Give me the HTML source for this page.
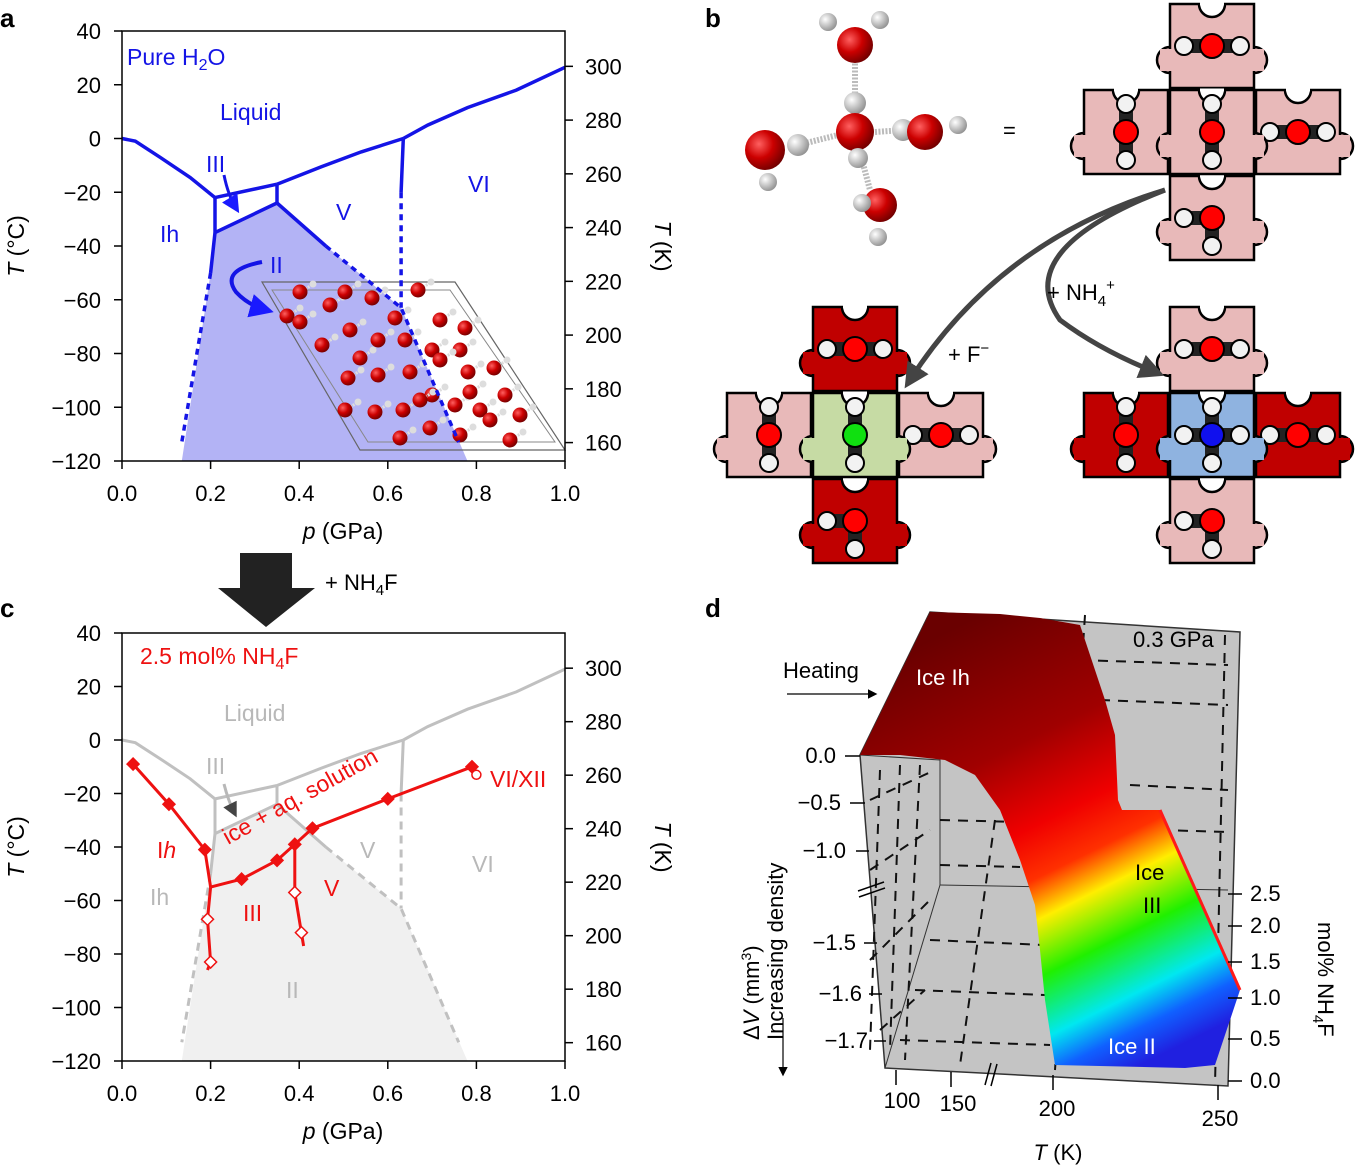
<!DOCTYPE html>
<html><head><meta charset="utf-8"><style>
html,body{margin:0;padding:0;background:#fff}
svg{display:block;font-family:"Liberation Sans",sans-serif}
</style></head><body>
<svg id="fig" width="1362" height="1166" viewBox="0 0 1362 1166" xmlns="http://www.w3.org/2000/svg">
<defs>
<linearGradient id="surf" x1="930" y1="640" x2="1140" y2="1065" gradientUnits="userSpaceOnUse">
<stop offset="0" stop-color="#6a0000"/><stop offset="0.28" stop-color="#a00000"/><stop offset="0.45" stop-color="#f00000"/><stop offset="0.55" stop-color="#ff3000"/><stop offset="0.63" stop-color="#ffee00"/><stop offset="0.74" stop-color="#20f000"/><stop offset="0.86" stop-color="#00e8f0"/><stop offset="0.93" stop-color="#1060ff"/><stop offset="1" stop-color="#2020e0"/>
</linearGradient>
<radialGradient id="ball" cx="0.35" cy="0.35" r="0.7"><stop offset="0" stop-color="#ff6060"/><stop offset="0.5" stop-color="#cc0000"/><stop offset="1" stop-color="#700000"/></radialGradient>
<radialGradient id="hball" cx="0.35" cy="0.35" r="0.7"><stop offset="0" stop-color="#ffffff"/><stop offset="1" stop-color="#909090"/></radialGradient>
<marker id="ah" markerWidth="8" markerHeight="8" refX="6" refY="4" orient="auto"><path d="M0,0 L8,4 L0,8 Z" fill="#000"/></marker>
<marker id="ahb" markerWidth="6" markerHeight="6" refX="4" refY="3" orient="auto"><path d="M0,0 L6,3 L0,6 Z" fill="#1a1aff"/></marker>
<marker id="ahg" markerWidth="5" markerHeight="5" refX="3" refY="2.5" orient="auto"><path d="M0,0 L5,2.5 L0,5 Z" fill="#444"/></marker>
</defs>
<g id="pa"></g>
<g id="pc"></g>
<g id="pb"></g>
<g id="pd">
 <polygon points="860,755 930,612 1240,632 1228,1086 885,1068" fill="#c4c4c4" stroke="#333" stroke-width="1.5"/>
 <polyline points="860,755 940,760 940,885 885,1068" fill="none" stroke="#333" stroke-width="1"/>
 <line x1="940" y1="885" x2="1228" y2="890" stroke="#333" stroke-width="1"/>
 <g stroke="#111" stroke-width="2" stroke-dasharray="10,8" fill="none">
  <line x1="1085" y1="615" x2="1055" y2="1070"/><line x1="1225" y1="635" x2="1215" y2="1085"/>
  <line x1="1080" y1="660" x2="1228" y2="665"/><line x1="1100" y1="700" x2="1228" y2="705"/><line x1="1130" y1="785" x2="1228" y2="790"/><line x1="1160" y1="830" x2="1228" y2="832"/>
  <line x1="940" y1="820" x2="1020" y2="822"/><line x1="940" y1="865" x2="1020" y2="867"/><line x1="930" y1="940" x2="1045" y2="945"/><line x1="915" y1="990" x2="1045" y2="995"/><line x1="900" y1="1040" x2="1050" y2="1045"/>
  <line x1="880" y1="770" x2="870" y2="1050"/><line x1="900" y1="765" x2="890" y2="1050"/><line x1="920" y1="765" x2="905" y2="1060"/>
  <line x1="995" y1="820" x2="960" y2="1065"/><line x1="870" y1="800" x2="935" y2="770"/><line x1="870" y1="870" x2="930" y2="830"/><line x1="870" y1="960" x2="930" y2="900"/><line x1="880" y1="1030" x2="925" y2="990"/>
 </g>
 <polygon points="860,755 930,612 1000,614 1040,618 1080,625 1095,670 1105,700 1115,735 1118,800 1122,810 1160,810 1240,990 1215,1065 1185,1068 1055,1065 1045,1000 1040,950 1035,905 1020,860 1000,810 975,775 945,760 900,755" fill="url(#surf)"/>
 <line x1="1160" y1="810" x2="1240" y2="990" stroke="#ff1a1a" stroke-width="3"/>
 <g font-size="22">
  <text x="1133" y="647">0.3 GPa</text>
  <text x="783" y="678">Heating</text>
  <line x1="787" y1="694" x2="875" y2="694" stroke="#000" stroke-width="1.2" marker-end="url(#ah)"/>
  <text x="916" y="685" fill="#fff">Ice Ih</text>
  <text x="1135" y="880">Ice</text>
  <text x="1143" y="913">III</text>
  <text x="1108" y="1054" fill="#fff">Ice II</text>
 </g>
 <g font-size="22" text-anchor="end">
  <text x="836" y="763">0.0</text><text x="841" y="810">−0.5</text><text x="846" y="858">−1.0</text><text x="856" y="950">−1.5</text><text x="862" y="1001">−1.6</text><text x="868" y="1048">−1.7</text>
  <g stroke="#000" stroke-width="1.5"><line x1="845" y1="756" x2="860" y2="756"/><line x1="850" y1="803" x2="865" y2="803"/><line x1="856" y1="851" x2="869" y2="851"/><line x1="864" y1="943" x2="877" y2="943"/><line x1="869" y1="994" x2="882" y2="994"/><line x1="874" y1="1041" x2="886" y2="1041"/><line x1="858" y1="891" x2="884" y2="882"/><line x1="859" y1="897" x2="885" y2="888"/></g>
 </g>
 <g font-size="22">
  <text x="1250" y="901">2.5</text><text x="1250" y="933">2.0</text><text x="1250" y="969">1.5</text><text x="1250" y="1005">1.0</text><text x="1250" y="1046">0.5</text><text x="1250" y="1088">0.0</text>
  <g stroke="#000" stroke-width="1.5"><line x1="1228" y1="894" x2="1242" y2="894"/><line x1="1228" y1="926" x2="1242" y2="926"/><line x1="1228" y1="962" x2="1242" y2="962"/><line x1="1228" y1="998" x2="1242" y2="998"/><line x1="1228" y1="1039" x2="1242" y2="1039"/><line x1="1228" y1="1081" x2="1242" y2="1081"/></g>
  <text transform="translate(1318,922) rotate(90)">mol% NH<tspan font-size="15" dy="5">4</tspan><tspan dy="-5">F</tspan></text>
 </g>
 <g font-size="22" text-anchor="middle">
  <text x="902" y="1108">100</text><text x="958" y="1111">150</text><text x="1057" y="1116">200</text><text x="1220" y="1126">250</text>
  <g stroke="#000" stroke-width="1.5"><line x1="896" y1="1070" x2="896" y2="1085"/><line x1="951" y1="1072" x2="951" y2="1087"/><line x1="1053" y1="1075" x2="1053" y2="1090"/><line x1="1218" y1="1085" x2="1218" y2="1100"/><line x1="985" y1="1085" x2="991" y2="1063"/><line x1="991" y1="1086" x2="997" y2="1064"/></g>
  <text x="1058" y="1160"><tspan font-style="italic">T</tspan> (K)</text>
 </g>
 <text transform="translate(759,1040) rotate(-90)" font-size="22">Δ<tspan font-style="italic">V</tspan> (mm<tspan font-size="14" dy="-8">3</tspan><tspan dy="8">)</tspan></text>
 <text transform="translate(783,1040) rotate(-90)" font-size="22">Increasing density</text>
 <line x1="783" y1="1018" x2="783" y2="1074" stroke="#000" stroke-width="1.2" marker-end="url(#ah)"/>
</g>
<g font-size="26" font-weight="bold">
 <text x="0" y="27">a</text><text x="705" y="27">b</text><text x="0" y="617">c</text><text x="705" y="617">d</text>
</g>
<g>
 <polygon points="240,553 292,553 292,588 315,588 266,627 218,588 240,588" fill="#222"/>
 <text x="325" y="590" font-size="22">+ NH<tspan font-size="15" dy="5">4</tspan><tspan dy="-5">F</tspan></text>
</g>
</svg>
<script>
const pTicks=[0,0.2,0.4,0.6,0.8,1.0];
const tTicks=[-120,-100,-80,-60,-40,-20,0,20,40];
const kTicks=[160,180,200,220,240,260,280,300];
const lineIhLiq=[[0,0],[0.03,-1],[0.086,-7],[0.154,-14.5],[0.21,-22]];
const lineIIILiq=[[0.21,-22],[0.35,-17]];
const lineVLiq=[[0.35,-17],[0.45,-10.5],[0.54,-5],[0.635,0]];
const lineVILiq=[[0.635,0],[0.69,5],[0.78,11.5],[0.89,18],[1.0,26.5]];
const lineIIIV=[[0.35,-17],[0.35,-24]];
const lineIhIII=[[0.21,-22],[0.21,-35]];
const lineIIIII=[[0.21,-35],[0.35,-24]];
const lineIIV=[[0.35,-24],[0.46,-40]];
const lineIIVdash=[[0.46,-40],[0.63,-63],[0.76,-113]];
const lineVVI=[[0.635,0],[0.63,-20]];
const lineVVIdash=[[0.63,-20],[0.63,-63]];
const lineIhII=[[0.21,-35],[0.2,-50]];
const lineIhIIdash=[[0.2,-50],[0.135,-113]];
const regionII=[[0.21,-35],[0.35,-24],[0.46,-40],[0.63,-63],[0.78,-120],[0.135,-120],[0.2,-50]];
const redIh=[[0.025,-9],[0.106,-24],[0.187,-41],[0.2,-55]];
const redIhLow=[[0.2,-55],[0.193,-67],[0.2,-83],[0.193,-86]];
const redIII=[[0.2,-55],[0.27,-52],[0.35,-45],[0.39,-39],[0.43,-33],[0.6,-22],[0.79,-10]];
const redV=[[0.39,-39],[0.39,-57],[0.405,-72],[0.41,-77]];
const redXII=[0.8,-13];
const NS="http://www.w3.org/2000/svg";
function mk(tag,parent){const e=document.createElementNS(NS,tag);parent.appendChild(e);return e;}
function axes(g,y0,h){
  const X=p=>122+443*p, Y=t=>y0+(40-t)*h/160;
  return {X,Y};
}
function pts(arr,A){return arr.map(d=>A.X(d[0]).toFixed(1)+","+A.Y(d[1]).toFixed(1)).join(" ");}
function drawLine(g,arr,A,color,w,dash,name){
  const l=mk('polyline',g);
  l.setAttribute('points',pts(arr,A));l.setAttribute('fill','none');l.setAttribute('stroke',color);l.setAttribute('stroke-width',w);
  if(dash)l.setAttribute('stroke-dasharray',dash);
  
  
}
function frame(g,A,y0,h){
  const r=mk('rect',g);
  r.setAttribute('x',122);r.setAttribute('y',y0);r.setAttribute('width',443);r.setAttribute('height',h);r.setAttribute('fill','none');r.setAttribute('stroke','#000');r.setAttribute('stroke-width',1.5);
  
  
  pTicks.forEach(p=>{
    const l=mk('line',g);l.setAttribute('x1',A.X(p));l.setAttribute('x2',A.X(p));l.setAttribute('y1',y0+h);l.setAttribute('y2',y0+h+8);l.setAttribute('stroke','#000');l.setAttribute('stroke-width',1.5);
    
    
    const t=mk('text',g);t.setAttribute('x',A.X(p));t.setAttribute('y',y0+h+40);t.setAttribute('font-size',22);t.setAttribute('text-anchor','middle');t.textContent=p.toFixed(1);
    
    
  });
  tTicks.forEach(v=>{
    const l=mk('line',g);l.setAttribute('x1',114);l.setAttribute('x2',122);l.setAttribute('y1',A.Y(v));l.setAttribute('y2',A.Y(v));l.setAttribute('stroke','#000');l.setAttribute('stroke-width',1.5);
    
    
    const t=mk('text',g);t.setAttribute('x',101);t.setAttribute('y',A.Y(v)+8);t.setAttribute('font-size',22);t.setAttribute('text-anchor','end');t.textContent=(v<0?'−':'')+Math.abs(v);
    
    
  });
  kTicks.forEach(k=>{
    const y=A.Y(k-273.15);
    const l=mk('line',g);l.setAttribute('x1',565);l.setAttribute('x2',573);l.setAttribute('y1',y);l.setAttribute('y2',y);l.setAttribute('stroke','#000');l.setAttribute('stroke-width',1.5);
    
    
    const t=mk('text',g);t.setAttribute('x',585);t.setAttribute('y',y+8);t.setAttribute('font-size',22);t.textContent=k;
    
    
  });
  const xt=mk('text',g);xt.setAttribute('x',343);xt.setAttribute('y',y0+h+78);xt.setAttribute('font-size',23);xt.setAttribute('text-anchor','middle');xt.innerHTML='<tspan font-style="italic">p</tspan> (GPa)';
  
  
  const yt=mk('text',g);yt.setAttribute('transform','translate(24,'+(y0+h/2)+') rotate(-90)');yt.setAttribute('font-size',23);yt.setAttribute('text-anchor','middle');yt.innerHTML='<tspan font-style="italic">T</tspan> (°C)';
  
  
  const y2=mk('text',g);y2.setAttribute('transform','translate(655,'+(y0+h/2)+') rotate(90)');y2.setAttribute('font-size',23);y2.setAttribute('text-anchor','middle');y2.innerHTML='<tspan font-style="italic">T</tspan> (K)';
  
  
}
function label(g,x,y,txt,color,size,name,extra){
  const t=mk('text',g);t.setAttribute('x',x);t.setAttribute('y',y);t.setAttribute('fill',color);t.setAttribute('font-size',size||23);t.innerHTML=txt;
  if(extra)t.setAttribute('transform',extra);
  
  
}
function phase(g,A,col,w,dash){
  [[lineIhLiq,'ih-liquid-line'],[lineIIILiq,'iii-liquid-line'],[lineVLiq,'v-liquid-line'],[lineVILiq,'vi-liquid-line'],[lineIIIV,'iii-v-line'],[lineIhIII,'ih-iii-line'],[lineIIIII,'ii-iii-line'],[lineIIV,'ii-v-line'],[lineVVI,'v-vi-line'],[lineIhII,'ih-ii-line']].forEach(d=>drawLine(g,d[0],A,col,w,null,d[1]));
  [[lineIIVdash,'ii-v-metastable'],[lineVVIdash,'v-vi-metastable'],[lineIhIIdash,'ih-ii-metastable']].forEach(d=>drawLine(g,d[0],A,col,w,dash,d[1]));
}
// Panel a
const ga=document.getElementById('pa');
const Aa=axes(ga,31,430);
const ra=mk('polygon',ga);ra.setAttribute('points',pts(regionII,Aa));ra.setAttribute('fill','#b3b3f5');


const cs=mk('g',ga);


cs.innerHTML='<polygon points="262,282 455,282 565,450 360,450" fill="none" stroke="#666" stroke-width="1.2"/><polygon points="272,290 450,290 555,442 368,442" fill="none" stroke="#888" stroke-width="1"/>'+
[[287,316],[300,292],[330,305],[345,292],[372,298],[395,318],[418,290],[440,320],[465,328],[322,345],[350,330],[378,340],[405,340],[432,350],[460,350],[348,378],[378,375],[410,372],[440,360],[468,372],[494,368],[345,410],[375,412],[403,410],[432,395],[455,405],[480,410],[400,438],[430,428],[460,435],[490,420],[510,440],[520,415],[505,395],[300,322],[360,358],[420,400],[470,392]].map(c=>'<line x1="'+c[0]+'" y1="'+c[1]+'" x2="'+(c[0]+12)+'" y2="'+(c[1]-7)+'" stroke="#ddd" stroke-width="3" stroke-dasharray="2,1"/><circle cx="'+(c[0]+13)+'" cy="'+(c[1]-8)+'" r="3.5" fill="#ddd"/><circle cx="'+c[0]+'" cy="'+c[1]+'" r="7.5" fill="url(#ball)"/>').join('');
phase(ga,Aa,'#1414e6',3.5,'6,5');
frame(ga,Aa,31,430);
label(ga,127,65,'Pure H<tspan font-size="16" dy="5">2</tspan><tspan dy="-5">O</tspan>','#1414e6',23,'pure-water-label');
label(ga,220,120,'Liquid','#1414e6',23,'liquid-label');
label(ga,206,172,'III','#1414e6',23,'iii-label');
label(ga,160,242,'Ih','#1414e6',23,'ih-label');
label(ga,336,220,'V','#1414e6',23,'v-label');
label(ga,468,192,'VI','#1414e6',23,'vi-label');
label(ga,270,273,'II','#1414e6',23,'ii-label');
const aa1=mk('path',ga);aa1.setAttribute('d','M224,175 Q228,195 236,208');aa1.setAttribute('fill','none');aa1.setAttribute('stroke','#1414e6');aa1.setAttribute('stroke-width',3);aa1.setAttribute('marker-end','url(#ahb)');


const aa2=mk('path',ga);aa2.setAttribute('d','M262,262 Q220,270 236,292 Q248,305 266,310');aa2.setAttribute('fill','none');aa2.setAttribute('stroke','#1414e6');aa2.setAttribute('stroke-width',4);aa2.setAttribute('marker-end','url(#ahb)');


// Panel c
const gc=document.getElementById('pc');
const Ac=axes(gc,633,428);
const rc=mk('polygon',gc);rc.setAttribute('points',pts(regionII,Ac));rc.setAttribute('fill','#f0f0f0');


phase(gc,Ac,'#c0c0c0',3,'8,6');
frame(gc,Ac,633,428);
const G='#b8b8b8',R='#ee1111';
label(gc,140,664,'2.5 mol% NH<tspan font-size="16" dy="5">4</tspan><tspan dy="-5">F</tspan>',R,23,'composition-label');
label(gc,224,721,'Liquid',G,23,'liquid-label');
label(gc,206,774,'III',G,23,'iii-label');
label(gc,150,905,'Ih',G,23,'ih-label');
label(gc,360,858,'V',G,23,'v-label');
label(gc,472,872,'VI',G,23,'vi-label');
label(gc,286,998,'II',G,23,'ii-label');
label(gc,157,858,'I<tspan font-style="italic">h</tspan>',R,23,'red-ih-label');
label(gc,243,921,'III',R,23,'red-iii-label');
label(gc,324,896,'V',R,23,'red-v-label');
label(gc,490,787,'VI/XII',R,23,'vi-xii-label');
label(gc,0,0,'ice + aq. solution',R,23,'ice-solution-label','translate(228,845) rotate(-29)');
const ca=mk('path',gc);ca.setAttribute('d','M224,784 Q228,800 234,812');ca.setAttribute('fill','none');ca.setAttribute('stroke','#b8b8b8');ca.setAttribute('stroke-width',3);ca.setAttribute('marker-end','url(#ahg)');


function redSeries(arr,name,filledIdx,openIdx){
  drawLine(gc,arr,Ac,R,3,null,name);
  arr.forEach((d,i)=>{
    const f=filledIdx.includes(i),o=openIdx.includes(i);
    if(!f&&!o)return;
    const x=Ac.X(d[0]),y=Ac.Y(d[1]);
    const m=mk('polygon',gc);m.setAttribute('points',(x)+','+(y-6)+' '+(x+6)+','+y+' '+x+','+(y+6)+' '+(x-6)+','+y);
    m.setAttribute('fill',f?R:'#fff');m.setAttribute('stroke',R);m.setAttribute('stroke-width',1.5);
    
    
  });
}
redSeries(redIh,'red-ih-series',[0,1,2],[]);
redSeries(redIhLow,'red-ih-low-series',[],[1,2]);
redSeries(redIII,'red-iii-series',[1,2,3,4,5,6],[]);
redSeries(redV,'red-v-series',[],[1,2]);
const cx=mk('circle',gc);cx.setAttribute('cx',Ac.X(redXII[0]));cx.setAttribute('cy',Ac.Y(redXII[1]));cx.setAttribute('r',4.5);cx.setAttribute('fill','#fff');cx.setAttribute('stroke',R);cx.setAttribute('stroke-width',1.5);


// Panel b
const gb=document.getElementById('pb');
function piece(cx,cy,fill,orient,atom,name){
  const g=mk('g',gb);
  
  
  const s=42;
  let h='<circle cx="'+(cx-s)+'" cy="'+(cy+14)+'" r="13" fill="'+fill+'" stroke="#000" stroke-width="2.5"/><circle cx="'+(cx+s)+'" cy="'+(cy+14)+'" r="13" fill="'+fill+'" stroke="#000" stroke-width="2.5"/>';
  h+='<rect x="'+(cx-s)+'" y="'+(cy-s)+'" width="'+(2*s)+'" height="'+(2*s)+'" fill="'+fill+'" stroke="#000" stroke-width="2.5"/>';
  h+='<rect x="'+(cx-s-10)+'" y="'+(cy+3)+'" width="'+(2*s+20)+'" height="22" fill="'+fill+'"/>';
  h+='<path d="M'+(cx-13)+','+(cy-s)+' A13,13 0 0 0 '+(cx+13)+','+(cy-s)+'" fill="#fff" stroke="#000" stroke-width="2.5"/>';
  h+='<line x1="'+(cx-12)+'" y1="'+(cy-s)+'" x2="'+(cx+12)+'" y2="'+(cy-s)+'" stroke="#fff" stroke-width="3"/>';
  const hs=orient.map(o=>[cx+o[0]*28,cy+o[1]*28]);
  hs.forEach(p=>{h+='<line x1="'+cx+'" y1="'+cy+'" x2="'+p[0]+'" y2="'+p[1]+'" stroke="#222" stroke-width="14"/>';});
  hs.forEach(p=>{h+='<circle cx="'+p[0]+'" cy="'+p[1]+'" r="9" fill="#f2f2f2" stroke="#000" stroke-width="2"/>';});
  h+='<circle cx="'+cx+'" cy="'+cy+'" r="12" fill="'+atom+'" stroke="#000" stroke-width="2"/>';
  g.innerHTML=h;
}
const PK='#e8b9b9',DR='#c00000';
function cross(cx,cy,cfill,catom,cor,tf,bf,lf,rf,nm){
  piece(cx,cy-86,tf,[[-1,0],[1,0]],'#f00',nm+'-top');
  piece(cx,cy+86,bf,[[-1,0],[0,1]],'#f00',nm+'-bottom');
  piece(cx-86,cy,lf,[[0,-1],[0,1]],'#f00',nm+'-left');
  piece(cx+86,cy,rf,[[-1,0],[1,0]],'#f00',nm+'-right');
  piece(cx,cy,cfill,cor,catom,nm+'-center');
}
cross(1212,132,PK,'#f00',[[0,-1],[0,1]],PK,PK,PK,PK,'water-cross');
cross(855,435,'#c6dba4','#10e010',[[0,-1],[0,1]],DR,DR,PK,PK,'fluoride-cross');
cross(1212,435,'#8fb3e0','#1010ee',[[0,-1],[0,1],[-1,0],[1,0]],PK,PK,DR,DR,'ammonium-cross');
const mol=mk('g',gb);


mol.innerHTML='<g stroke="#bbb" stroke-width="6" stroke-dasharray="2,1.5"><line x1="855" y1="60" x2="855" y2="100"/><line x1="790" y1="147" x2="838" y2="135"/><line x1="875" y1="132" x2="905" y2="130"/><line x1="862" y1="160" x2="870" y2="190"/></g>'+
'<circle cx="828" cy="22" r="9" fill="url(#hball)"/><circle cx="880" cy="20" r="9" fill="url(#hball)"/><circle cx="855" cy="45" r="18" fill="url(#ball)"/>'+
'<circle cx="855" cy="103" r="11" fill="url(#hball)"/><circle cx="855" cy="132" r="19" fill="url(#ball)"/><circle cx="858" cy="158" r="10" fill="url(#hball)"/>'+
'<circle cx="765" cy="150" r="20" fill="url(#ball)"/><circle cx="798" cy="145" r="11" fill="url(#hball)"/><circle cx="768" cy="182" r="9" fill="url(#hball)"/>'+
'<circle cx="903" cy="130" r="11" fill="url(#hball)"/><circle cx="925" cy="132" r="18" fill="url(#ball)"/><circle cx="958" cy="125" r="9" fill="url(#hball)"/>'+
'<circle cx="880" cy="205" r="17" fill="url(#ball)"/><circle cx="862" cy="203" r="9" fill="url(#hball)"/><circle cx="878" cy="237" r="9" fill="url(#hball)"/>'+
'<text x="1003" y="138" font-size="22">=</text>';
const arr=mk('g',gb);


arr.innerHTML='<path d="M1165,190 Q1000,240 910,380" fill="none" stroke="#444" stroke-width="5" marker-end="url(#ahg)"/><path d="M1165,190 Q1010,250 1060,320 Q1100,350 1155,372" fill="none" stroke="#444" stroke-width="5" marker-end="url(#ahg)"/>'+
'<text x="948" y="362" font-size="22">+ F<tspan font-size="15" dy="-9">−</tspan></text><text x="1047" y="300" font-size="22">+ NH<tspan font-size="15" dy="6">4</tspan><tspan font-size="15" dy="-16">+</tspan></text>';
</script>
</body></html>
